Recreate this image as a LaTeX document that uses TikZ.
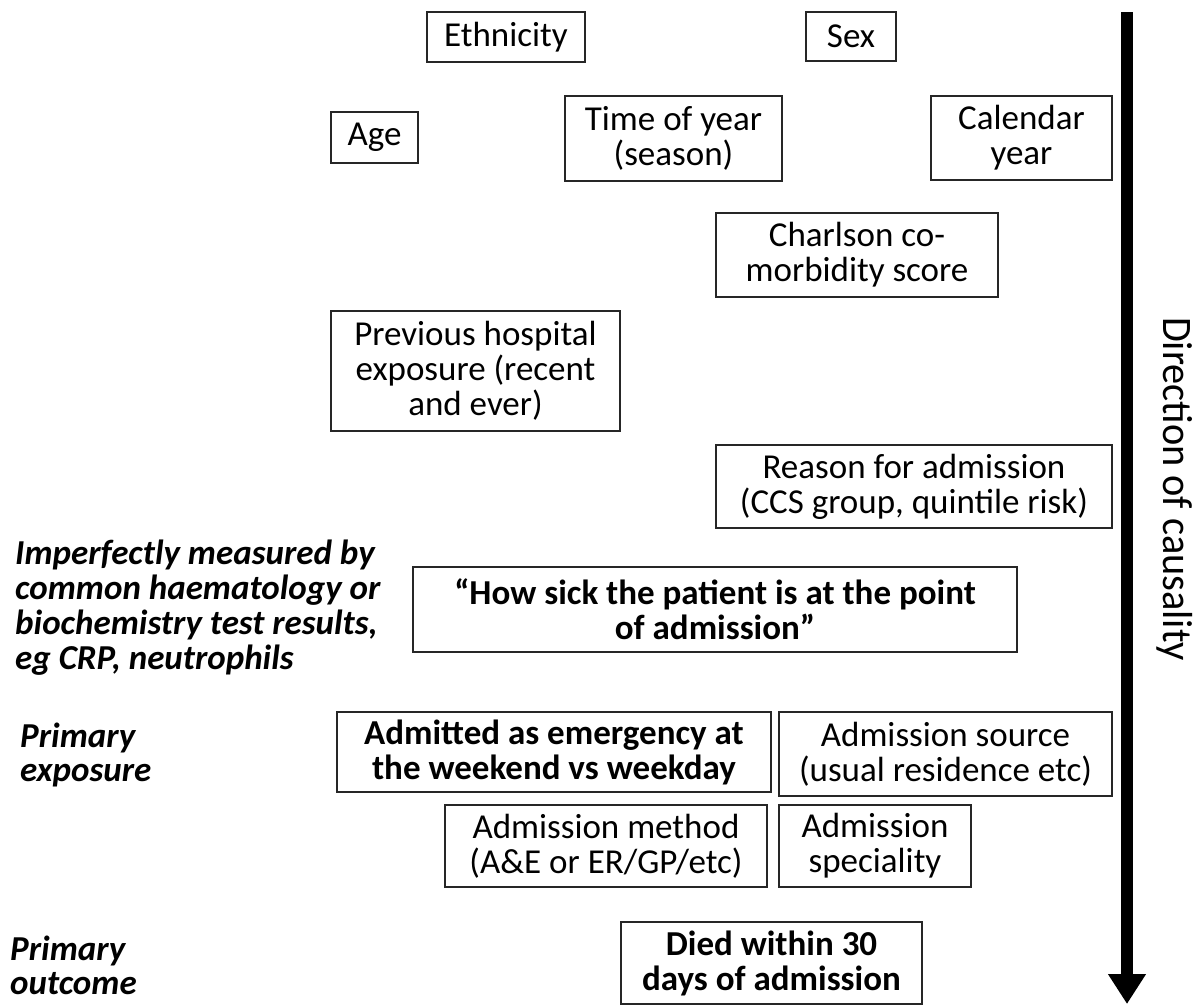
\documentclass[tikz,border=0pt]{standalone}
\usepackage{fontspec}
\setmainfont{Carlito}
\newfontfamily\condfont[FakeStretch=0.96]{Carlito}
\usetikzlibrary{arrows.meta}
\newcommand\tightlines{\lineskiplimit=-100pt\relax\lineskip=0pt\relax}
\begin{document}
\begin{tikzpicture}[x=1pt,y=-1pt,
  box/.style={draw=black!85,line width=1.4pt,inner sep=0pt,align=center,
    font=\fontsize{35}{35}\selectfont\tightlines},
  bbox/.style={box,font=\fontsize{35}{35}\selectfont\bfseries\tightlines},
  side/.style={anchor=north west,align=left,inner sep=0pt,
    font=\fontsize{35}{35}\selectfont\bfseries\itshape\tightlines},
  sidep/.style={side,font=\fontsize{35}{33.5}\selectfont\bfseries\itshape\tightlines}]
\useasboundingbox (0,0) rectangle (1202,1005);
\node[box,minimum width=158,minimum height=50] (eth) at (506,37) {Ethnicity};
\node[box,minimum width=90,minimum height=49] (sex) at (851,36.5) {Sex};
\node[box,minimum width=87,minimum height=51] (age) at (374.5,137.5) {Age};
\node[box,minimum width=217,minimum height=85] (time) at (673.5,138.5) {Time of year\\(season)};
\node[box,minimum width=181,minimum height=84] (cal) at (1021.5,138) {Calendar\\year};
\node[box,minimum width=282,minimum height=84] (charl) at (857,255) {Charlson co-\\morbidity score};
\node[box,minimum width=289,minimum height=120] (prev) at (475.5,371) {Previous hospital\\exposure (recent\\and ever)};
\node[box,minimum width=396,minimum height=83] (reason) at (914,486.5) {Reason for admission\\(CCS group, quintile risk)};
\node[bbox,minimum width=604,minimum height=85] (sick) at (715,609.5) {“How sick the patient is at the point\\of admission”};
\node[bbox,minimum width=434,minimum height=80] (adm) at (554,752) {Admitted as emergency at\\the weekend vs weekday};
\node[box,minimum width=333,minimum height=84] (src) at (945.5,754) {Admission source\\(usual residence etc)};
\node[box,minimum width=322,minimum height=82] (meth) at (606,846) {Admission method\\(A\&E or ER/GP/etc)};
\node[box,minimum width=192,minimum height=82] (spec) at (875,846) {Admission\\speciality};
\node[bbox,minimum width=301,minimum height=82] (died) at (771.5,963) {Died within 30\\days of admission};
\node[side] (imp) at (15,540) {Imperfectly measured by\\common haematology or\\biochemistry test results,\\eg CRP, neutrophils};
\node[sidep] (pexp) at (20,723) {Primary\\exposure};
\node[sidep] (pout) at (10,936) {Primary\\outcome};
\coordinate (atop) at (1127,12);
\coordinate (abot) at (1127,1004);
\draw[line width=12pt,-{Triangle[width=36pt,length=30pt]}] (atop) -- (abot);
\node[rotate=-90,inner sep=0pt,font=\fontsize{42}{42}\condfont] (dir) at (1175,489) {Direction of causality};
\end{tikzpicture}
\end{document}
